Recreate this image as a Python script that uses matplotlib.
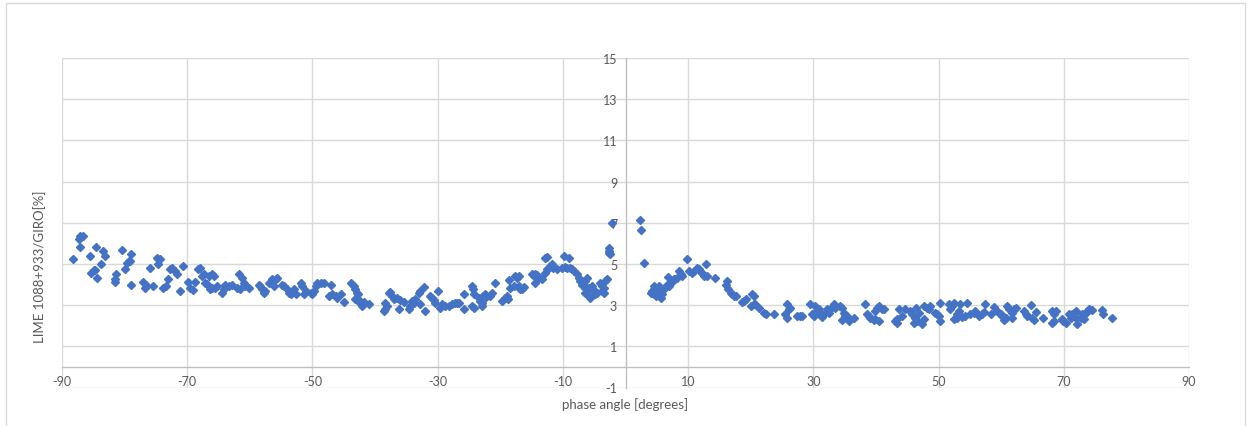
import matplotlib
matplotlib.use("Agg")
import matplotlib.pyplot as plt
from matplotlib.patches import Rectangle

# ---- data ----
angle_neg = [-88.3, -87.1, -87.3, -86.9, -86.7, -87.2, -85.6, -84.5, -85.3, -84.9, -84.7, -84.4, -83.7, -83.5,
             -83.1, -81.6, -81.5, -81.3, -80.4, -79.9, -79.6, -79.35, -79.1, -79.0, -79.0, -77.1, -76.8, -76.6,
             -76.0, -75.4, -74.8, -74.3, -74.6, -73.8, -73.4, -73.0, -72.7, -72.4, -72.0, -71.6, -71.1, -70.7,
             -69.9, -69.5, -69.0, -68.7,
             -68.2, -67.9, -67.6, -67.4, -66.8, -67.1, -66.3, -66.0, -66.6, -66.0, -65.8, -65.2, -65.5, -64.4,
             -64.2, -63.9, -63.4, -62.8, -61.8, -61.2, -61.0, -60.7, -61.5, -62.0, -60.2, -58.6, -58.3, -58.05,
             -57.8, -57.5, -57.0, -56.5, -55.9, -55.7, -56.2, -54.9, -54.6, -54.1, -53.8, -53.5, -53.0, -52.7,
             -51.9, -51.7, -51.4, -51.1, -50.3, -50.1, -49.8, -49.5, -49.3, -48.7,
             -48.2, -47.1, -47.4, -46.9, -46.3, -46.1, -45.5, -45.0, -43.8, -43.4, -43.2, -42.9, -42.7, -43.2,
             -42.6, -42.4, -42.1, -41.8, -40.9, -38.6, -38.35, -38.1, -38.35, -37.8, -37.6, -37.3, -37.0, -36.5,
             -36.0, -36.2, -35.4, -34.6, -34.4, -34.1, -33.8, -33.6, -33.0, -32.8, -32.8, -32.2, -32.1, -31.2,
             -30.9, -30.6, -30.4, -29.9, -29.6, -29.3, -28.8, -28.2, -27.7,
             -27.2, -26.9, -26.6, -25.8, -25.8, -24.5, -24.4, -24.2, -24.5, -24.2, -23.4, -23.2, -22.9, -22.6,
             -22.9, -22.8, -22.5, -21.6, -21.3, -20.8, -19.7, -19.2, -18.9, -18.8, -18.65, -18.4, -17.6, -17.3,
             -17.05, -17.85, -17.05, -16.8, -16.5, -16.25, -14.9, -14.65, -14.4, -14.1, -13.85, -14.5, -13.3,
             -12.8, -12.5, -12.8, -12.5, -12.2, -12.0, -11.7, -11.5, -10.9, -9.86, -9.06, -10.1, -9.6, -9.3,
             -8.8, -8.5, -8.3, -7.7, -7.5, -7.2, -6.9, -6.4, -6.4,
             -6.1, -6.4, -6.7, -5.9, -5.6, -5.3, -5.1, -4.8, -4.5, -5.6, -5.9, -4.0, -3.7, -3.5, -3.2, -2.9,
             -3.7, -3.5, -2.67, -2.56, -2.4, -2.67, -2.14]
ratio_neg = [5.22, 6.36, 6.2, 6.3, 6.35, 5.84, 5.4, 5.8, 4.58, 4.7, 4.72, 4.33, 5.0, 5.63,
             5.39, 4.1, 4.25, 4.53, 5.68, 4.74, 5.06, 5.14, 5.14, 5.47, 3.98, 4.14, 3.85, 3.98,
             4.82, 3.93, 5.3, 5.22, 4.98, 3.82, 3.93, 4.25, 4.74, 4.82, 4.66, 4.5, 3.69, 4.9,
             4.1, 3.85, 3.72, 4.1,
             4.74, 4.82, 4.42, 4.53, 4.04, 4.09, 3.77, 3.85, 4.42, 4.5, 4.42, 3.93, 3.82, 3.6,
             3.77, 4.0, 3.93, 4.0, 4.5, 4.33, 4.09, 3.93, 3.77, 3.85, 3.85, 4.0, 3.93, 3.77,
             3.6, 3.69, 4.09, 4.25, 4.25, 4.33, 3.93, 3.98, 3.93, 3.77, 3.6, 3.52, 3.77, 3.52,
             4.09, 3.93, 3.52, 3.69, 3.6, 3.55, 3.69, 3.93, 4.09, 4.09,
             4.09, 3.98, 3.44, 3.55, 3.44, 3.36, 3.52, 3.15, 4.09, 3.93, 3.77, 3.6, 3.52, 3.28,
             3.23, 3.12, 2.96, 3.17, 3.07, 2.71, 2.8, 2.96, 3.12, 3.6, 3.65, 3.44, 3.28, 3.36,
             3.23, 2.8, 3.17, 2.8, 2.96, 3.2, 3.12, 3.28, 3.6, 3.69, 3.07, 3.88, 2.71, 3.44,
             3.36, 3.23, 3.12, 3.69, 2.84, 3.04, 2.96, 2.96, 3.04,
             3.12, 3.12, 3.1, 2.8, 3.52, 3.93, 3.77, 3.52, 2.96, 2.88, 3.36, 3.2, 3.12, 3.28,
             2.96, 3.44, 3.52, 3.44, 3.6, 4.09, 3.2, 3.36, 3.44, 3.28, 4.2, 3.85, 4.42, 4.33,
             4.42, 3.93, 3.93, 3.77, 3.77, 3.88, 4.5, 4.42, 4.53, 4.45, 4.33, 4.09, 4.25,
             5.3, 5.33, 4.58, 4.74, 4.82, 4.9, 4.98, 4.82, 4.74, 5.38, 5.3, 4.82, 4.85, 4.82,
             4.82, 4.74, 4.66, 4.5, 4.33, 4.17, 4.0, 3.85, 3.6,
             4.33, 4.17, 4.0, 3.85, 3.77, 3.93, 3.72, 3.52, 3.6, 3.36, 3.44, 4.09, 3.93, 3.82, 4.17, 4.25,
             3.69, 3.6, 5.79, 5.63, 5.47, 5.55, 7.0]

angle_pos = [2.39, 2.55, 2.92, 4.0, 4.25, 4.5, 4.5, 4.8, 5.05, 5.3, 5.6, 5.85, 6.1, 4.5, 5.3, 6.6, 6.9,
             7.2, 7.45, 7.7, 7.98, 8.25, 6.8, 8.5, 8.8, 9.05, 9.85, 10.1, 10.6, 10.9, 11.4, 11.7, 11.97,
             12.2, 12.5, 12.9, 13.0, 14.3,
             16.2, 16.1, 16.4, 16.8, 17.0, 17.3, 17.6, 18.6, 18.9, 19.2, 20.2, 20.5, 20.1, 20.5, 20.75,
             21.3, 22.1, 22.4, 23.7, 25.8, 26.1, 26.3, 25.5, 25.8, 27.4, 27.9, 28.2, 29.5, 29.8, 30.1,
             30.3, 30.6, 30.9, 31.1, 31.4, 31.9, 32.2, 32.5, 33.0, 33.3, 33.5, 34.3, 34.6, 34.6, 35.1,
             34.9, 35.4, 35.7, 36.5, 38.3, 38.6, 38.9, 39.1, 39.7, 39.9, 40.5, 39.9, 40.2, 40.5, 41.0,
             41.3, 43.1, 43.4, 43.4, 43.7, 44.2, 44.7, 45.5, 45.8, 46.1, 46.3, 46.6, 46.9, 46.4, 47.4,
             47.6, 47.6, 48.2, 48.4, 48.7, 49.5, 49.8, 50.0, 50.3, 50.3, 51.6, 51.9, 52.2, 52.4, 53.0,
             53.2, 53.5, 52.4, 53.0, 53.8, 54.3, 54.6, 55.1, 55.6, 55.9,
             56.4, 57.0, 57.2, 57.4, 58.3, 58.8, 59.4, 59.6, 59.9, 60.2, 60.4, 60.7, 61.0, 61.2, 61.8,
             62.0, 62.3, 61.7, 63.6, 63.9, 64.2, 64.7, 65.0, 65.2, 65.5, 66.7, 68.1, 68.4, 68.7, 68.4,
             68.1, 69.7, 69.9, 70.3, 70.8, 71.1, 71.35, 71.6, 71.9, 72.1, 71.9, 72.7, 72.9, 73.2, 73.5,
             73.7, 74.0, 74.5, 76.1, 76.2, 77.7]
ratio_pos = [7.12, 6.64, 5.06, 3.6, 3.69, 3.77, 3.52, 3.44, 3.6, 3.69, 3.36, 3.52, 3.77, 3.93, 3.93, 4.0, 3.93,
             4.09, 4.17, 4.25, 4.25, 4.33, 4.37, 4.66, 4.5, 4.42, 5.22, 4.66, 4.58, 4.66, 4.82, 4.74, 4.66,
             4.58, 4.42, 4.98, 4.42, 4.33,
             4.17, 4.0, 3.77, 3.6, 3.52, 3.44, 3.44, 3.17, 3.2, 3.28, 3.52, 3.44, 2.96, 3.04, 3.04,
             2.88, 2.63, 2.55, 2.58, 3.04, 2.8, 2.84, 2.55, 2.39, 2.47, 2.47, 2.47, 3.04, 2.55, 2.47,
             2.96, 2.71, 2.8, 2.63, 2.42, 2.63, 2.8, 2.63, 2.9, 3.04, 2.88, 2.96, 2.88, 2.26, 2.47,
             2.63, 2.47, 2.22, 2.39, 3.04, 2.55, 2.47, 2.36, 2.26, 2.31, 2.22, 2.71, 2.88, 2.96, 2.8,
             2.8, 2.22, 2.14, 2.31, 2.8, 2.47, 2.8, 2.71, 2.55, 2.14, 2.39, 2.22, 2.63, 2.88, 2.06,
             2.31, 2.96, 2.88, 2.8, 2.96, 2.63, 2.55, 2.47, 2.22, 3.12, 3.04, 2.8, 2.96, 3.12, 2.55,
             2.71, 3.04, 2.31, 2.39, 2.42, 2.47, 3.12, 2.55, 2.63, 2.71,
             2.47, 2.55, 2.68, 3.04, 2.55, 2.9, 2.71, 2.63, 2.55, 2.47, 2.26, 2.36, 2.96, 2.8, 2.63,
             2.8, 2.84, 2.39, 2.71, 2.55, 2.47, 2.99, 2.39, 2.26, 2.68, 2.39, 2.71, 2.55, 2.71, 2.22,
             2.14, 2.31, 2.22, 2.14, 2.55, 2.39, 2.55, 2.63, 2.71, 2.06, 2.39, 2.39, 2.55, 2.31, 2.63,
             2.71, 2.8, 2.75, 2.75, 2.55, 2.38]

x_ticks = [-90, -70, -50, -30, -10, 10, 30, 50, 70, 90]
y_ticks = [-1, 1, 3, 5, 7, 9, 11, 13, 15]
x_label = "phase angle [degrees]"
y_label = "LIME 1088+933/GIRO[%]"

# ---- styling ----
W, H = 1251, 427
plt.rcParams['font.family'] = ['Lato', 'DejaVu Sans']
plt.rcParams['axes.unicode_minus'] = False
fig = plt.figure(figsize=(W / 100, H / 100), dpi=100)
fig.patches.append(Rectangle((6 / W, -0.01), (1245 - 6) / W, 1.01 - 4 / H, transform=fig.transFigure,
                             fill=False, edgecolor='#D9D9D9', linewidth=1.0))

ax = fig.add_axes([62 / W, 1 - 388.5 / H, (1189 - 62) / W, (388.5 - 59) / H])
ax.set_xlim(-90, 90)
ax.set_ylim(-1, 15)
ax.set_xticks(x_ticks)
ax.set_yticks(y_ticks)
ax.grid(True, color='#D9D9D9', linewidth=1.0)
ax.set_axisbelow(True)
for s in ['top', 'right']:
    ax.spines[s].set_visible(False)
ax.spines['bottom'].set_position(('data', 0))
ax.spines['left'].set_position(('data', 0))
for s in ['bottom', 'left']:
    ax.spines[s].set_color('#BFBFBF')
    ax.spines[s].set_linewidth(1.0)
ax.tick_params(length=0, labelsize=9, labelcolor='#595959')
ax.tick_params(axis='x', pad=6)
ax.tick_params(axis='y', pad=6)

color = '#4472C4'
ax.plot(angle_neg, ratio_neg, linestyle='none', marker='D', ms=4.0, color=color, mec=color, clip_on=False)
ax.plot(angle_pos, ratio_pos, linestyle='none', marker='D', ms=4.0, color=color, mec=color, clip_on=False)

fig.text(40 / W, 1 - 267 / H, y_label, rotation=90, ha='center', va='center', fontsize=9.5, color='#595959')
fig.text(625 / W, 1 - 405 / H, x_label, ha='center', va='center', fontsize=9.5, color='#595959')

fig.savefig('out.png', dpi=100)
